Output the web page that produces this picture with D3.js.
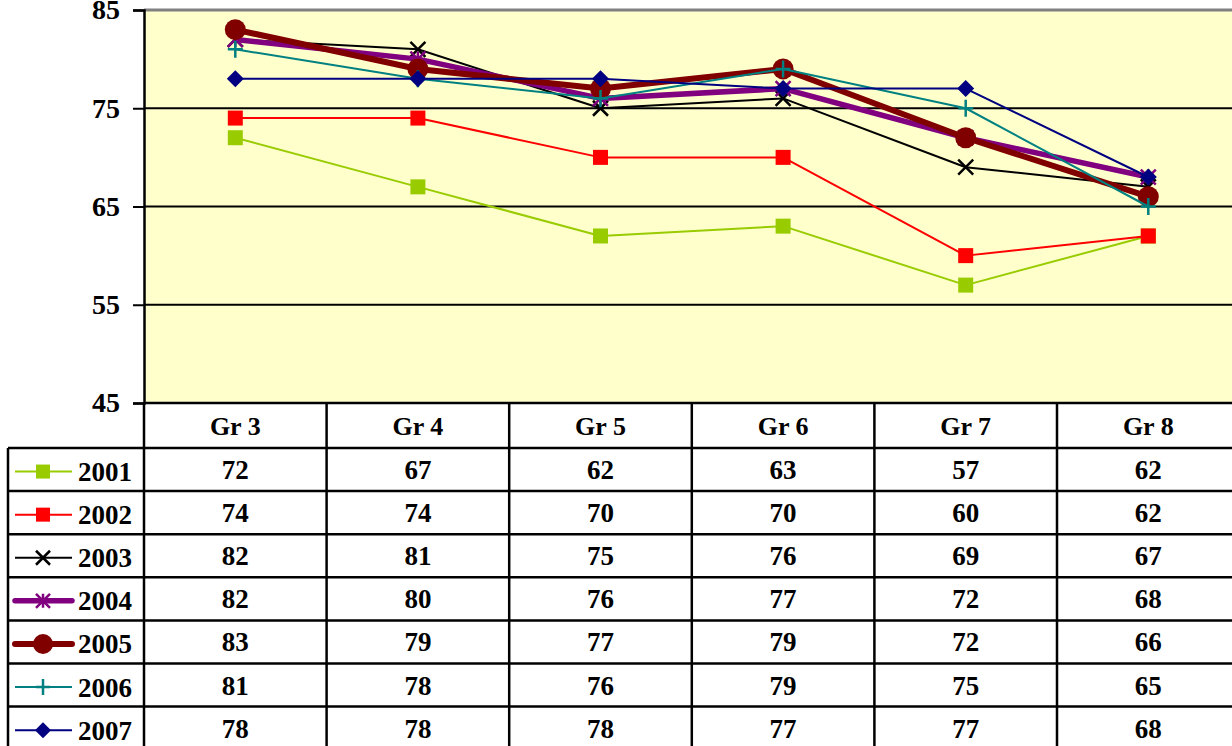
<!DOCTYPE html>
<html>
<head>
<meta charset="utf-8">
<script src="https://cdn.jsdelivr.net/npm/d3@7"></script>
<style>
  body { margin: 0; background: #fff; }
  svg text { font-family: "Liberation Serif", "Times New Roman", Times, "Nimbus Roman", "DejaVu Serif", serif; font-weight: bold; }
</style>
</head>
<body>
<div id="chart"></div>
<script>
// data
const grades = ["Gr 3", "Gr 4", "Gr 5", "Gr 6", "Gr 7", "Gr 8"];
const years = ["2001", "2002", "2003", "2004", "2005", "2006", "2007"];
const v2001 = [72, 67, 62, 63, 57, 62];
const v2002 = [74, 74, 70, 70, 60, 62];
const v2003 = [82, 81, 75, 76, 69, 67];
const v2004 = [82, 80, 76, 77, 72, 68];
const v2005 = [83, 79, 77, 79, 72, 66];
const v2006 = [81, 78, 76, 79, 75, 65];
const v2007 = [78, 78, 78, 77, 77, 68];
const yTicks = [45, 55, 65, 75, 85];

const seriesValues = [v2001, v2002, v2003, v2004, v2005, v2006, v2007];
const styles = [
    {color: "#99CC00", width: 2, marker: "square"},
    {color: "#FF0000", width: 2, marker: "square"},
    {color: "#000000", width: 2, marker: "x"},
    {color: "#800080", width: 5.5, marker: "star"},
    {color: "#800000", width: 6, marker: "circle"},
    {color: "#008080", width: 2, marker: "plus"},
    {color: "#000080", width: 2, marker: "diamond"}
];
const series = years.map((y, i) => ({year: y, values: seriesValues[i], style: styles[i]}));

const W = 1232, H = 746;
const plotLeft = 144, colW = 182.6, plotTop = 10, plotBottom = 403;
const headerH = 45, rowH = 43.1, legendX = 8;
const FONT = "'Liberation Serif', 'Times New Roman', Times, 'Nimbus Roman', 'DejaVu Serif', serif";

const svg = d3.select("#chart").append("svg")
    .attr("width", W)
    .attr("height", H);

const x = d3.scaleBand()
    .domain(grades)
    .range([plotLeft, plotLeft + colW * grades.length]);

const y = d3.scaleLinear()
    .domain([45, 85])
    .range([plotBottom, plotTop]);

// plot area
svg.append("rect")
    .attr("x", plotLeft).attr("y", plotTop)
    .attr("width", W - plotLeft).attr("height", plotBottom - plotTop)
    .attr("fill", "#FFFFCC");

svg.append("line")
    .attr("x1", plotLeft).attr("x2", W)
    .attr("y1", plotTop).attr("y2", plotTop)
    .attr("stroke", "#808080").attr("stroke-width", 3);

// gridlines
svg.selectAll(".grid")
    .data(yTicks.filter(d => d > 45 && d < 85))
    .join("line")
    .attr("class", "grid")
    .attr("x1", plotLeft).attr("x2", W)
    .attr("y1", d => y(d)).attr("y2", d => y(d))
    .attr("stroke", "#000").attr("stroke-width", 2);

// y axis
const yAxis = svg.append("g")
    .attr("transform", `translate(${plotLeft},0)`)
    .call(d3.axisLeft(y).tickValues(yTicks).tickSize(11).tickPadding(13).tickFormat(d3.format("d")));
yAxis.attr("font-family", null).attr("font-size", null);
yAxis.select(".domain").attr("stroke", "#000").attr("stroke-width", 2.5);
yAxis.selectAll(".tick line").attr("stroke", "#000").attr("stroke-width", 2);
yAxis.selectAll(".tick text")
    .attr("font-size", 28)
    .attr("fill", "#000")
    .style("font-family", FONT)
    .style("font-weight", "bold");

// markers
function drawMarker(g, type, color, size) {
    const s = size / 2;
    if (type === "square") {
        g.append("rect").attr("x", -s).attr("y", -s).attr("width", size).attr("height", size)
            .attr("fill", color);
    } else if (type === "diamond") {
        g.append("path").attr("d", `M0,${-s - 1}L${s + 1},0L0,${s + 1}L${-s - 1},0Z`).attr("fill", color);
    } else if (type === "circle") {
        g.append("circle").attr("r", s + 3).attr("fill", color);
    } else if (type === "x") {
        g.append("path").attr("d", `M${-s},${-s}L${s},${s}M${-s},${s}L${s},${-s}`)
            .attr("stroke", color).attr("stroke-width", 2.5).attr("fill", "none");
    } else if (type === "plus") {
        g.append("path").attr("d", `M${-s},0L${s},0M0,${-s - 1}L0,${s + 1}`)
            .attr("stroke", color).attr("stroke-width", 2.5).attr("fill", "none");
    } else if (type === "star") {
        g.append("path").attr("d", `M${-s},${-s}L${s},${s}M${-s},${s}L${s},${-s}M0,${-s}L0,${s}`)
            .attr("stroke", color).attr("stroke-width", 2.5).attr("fill", "none");
    }
}

const line = d3.line()
    .x((d, i) => x(grades[i]) + x.bandwidth() / 2)
    .y(d => y(d));

const plot = svg.append("g");
series.forEach(s => {
    const g = plot.append("g");
    g.append("path")
        .datum(s.values)
        .attr("d", line)
        .attr("fill", "none")
        .attr("stroke", s.style.color)
        .attr("stroke-width", s.style.width)
        .attr("stroke-linejoin", "round");
    s.values.forEach((v, i) => {
        const m = g.append("g")
            .attr("transform", `translate(${x(grades[i]) + x.bandwidth() / 2},${y(v)})`);
        drawMarker(m, s.style.marker, s.style.color, 15);
    });
});

// data table
const table = svg.append("g");
const rowsTop = plotBottom + headerH;

table.selectAll(".hdr")
    .data(grades)
    .join("text")
    .attr("class", "hdr")
    .attr("x", d => x(d) + x.bandwidth() / 2)
    .attr("y", plotBottom + headerH / 2)
    .attr("dy", "0.35em")
    .attr("text-anchor", "middle")
    .attr("font-size", 26)
    .text(d => d);

// vertical lines
table.selectAll(".vline")
    .data(grades)
    .join("line")
    .attr("class", "vline")
    .attr("x1", d => x(d)).attr("x2", d => x(d))
    .attr("y1", plotBottom).attr("y2", H)
    .attr("stroke", "#000").attr("stroke-width", 2.5);

table.append("line")
    .attr("x1", legendX).attr("x2", legendX)
    .attr("y1", rowsTop).attr("y2", H)
    .attr("stroke", "#000").attr("stroke-width", 2.5);

// horizontal lines
table.append("line")
    .attr("x1", plotLeft).attr("x2", W)
    .attr("y1", plotBottom).attr("y2", plotBottom)
    .attr("stroke", "#000").attr("stroke-width", 2.5);

table.selectAll(".hline")
    .data(d3.range(years.length + 1))
    .join("line")
    .attr("class", "hline")
    .attr("x1", legendX).attr("x2", W)
    .attr("y1", i => rowsTop + i * rowH).attr("y2", i => rowsTop + i * rowH)
    .attr("stroke", "#000").attr("stroke-width", 2.5);

series.forEach((s, r) => {
    const cy = rowsTop + rowH * r + rowH / 2 + 2;
    const row = table.append("g");
    row.append("line")
        .attr("x1", 15).attr("x2", 72)
        .attr("y1", cy).attr("y2", cy)
        .attr("stroke", s.style.color)
        .attr("stroke-width", s.style.width)
        .attr("stroke-linecap", s.style.width > 2 ? "round" : "butt");
    const m = row.append("g").attr("transform", `translate(43,${cy})`);
    drawMarker(m, s.style.marker, s.style.color, 14);
    row.append("text")
        .attr("x", 78).attr("y", cy)
        .attr("dy", "0.35em")
        .attr("font-size", 27)
        .text(s.year);
    row.selectAll(".val")
        .data(s.values)
        .join("text")
        .attr("class", "val")
        .attr("x", (d, i) => x(grades[i]) + x.bandwidth() / 2)
        .attr("y", cy - 2)
        .attr("dy", "0.35em")
        .attr("text-anchor", "middle")
        .attr("font-size", 27)
        .text(d => d);
});
</script>
</body>
</html>
